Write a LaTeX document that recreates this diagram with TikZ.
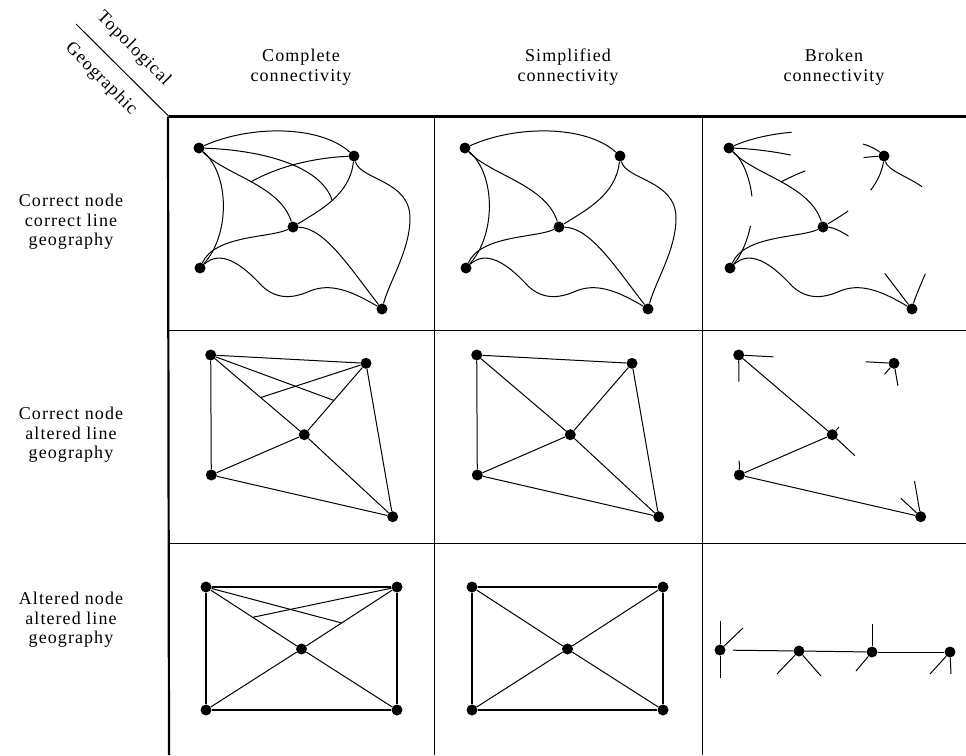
\documentclass[tikz,border=0pt]{standalone}
\usepackage{fontspec}
\setmainfont[LetterSpace=6]{Liberation Serif}
\usetikzlibrary{calc}
\newcommand\netRowA[1]{%
  \node[dot] (#1A) at (199,148) {};
  \node[dot] (#1B) at (354,156) {};
  \node[dot] (#1C) at (293,227) {};
  \node[dot] (#1D) at (200,268) {};
  \node[dot] (#1E) at (382,309) {};
  \coordinate (#1x1) at (250.9,181.9);
  \coordinate (#1x2) at (332,199.8);
}
\newcommand\netRowB[1]{%
  \node[dot] (#1A) at (210.7,355) {};
  \node[dot] (#1B) at (366,363.3) {};
  \node[dot] (#1C) at (304.3,434.7) {};
  \node[dot] (#1D) at (211.3,475) {};
  \node[dot] (#1E) at (392.7,516.7) {};
}
\newcommand\netRowC[1]{%
  \node[dot] (#1TL) at (206,587) {};
  \node[dot] (#1TR) at (397,587) {};
  \node[dot] (#1C) at (301.5,649) {};
  \node[dot] (#1BL) at (206,710) {};
  \node[dot] (#1BR) at (397,710) {};
}
\newcommand\curvesRowA[1]{%
  \draw[edge] (#1A) .. controls (250,125) and (320,125) .. (#1B);
  \draw[edge] (#1A) .. controls (225,175) and (280,185) .. (#1C);
  \draw[edge] (#1A) .. controls (230,175) and (230,235) .. (#1D);
  \draw[edge] (#1B) .. controls (350,195) and (320,210) .. (#1C);
  \draw[edge] (#1B) .. controls (360,180) and (410,180) .. (410,218) .. controls (410,250) and (390,280) .. (#1E);
  \draw[edge] (#1C) .. controls (270,238) and (215,235) .. (#1D);
  \draw[edge] (#1C) .. controls (325,228) and (350,268) .. (#1E);
  \draw[edge] (#1D) .. controls (220,250) and (240,262) .. (262,286) .. controls (275,298) and (290,300) .. (310,291) .. controls (330,283) and (350,290) .. (#1E);
}
\newcommand\linesRowB[1]{%
  \draw[edge] (#1A) -- (#1B);
  \draw[edge] (#1A) -- (#1C);
  \draw[edge] (#1A) -- (#1D);
  \draw[edge] (#1B) -- (#1C);
  \draw[edge] (#1B) -- (#1E);
  \draw[edge] (#1C) -- (#1D);
  \draw[edge] (#1C) -- (#1E);
  \draw[edge] (#1D) -- (#1E);
}
\newcommand\linesRowC[1]{%
  \draw[rect] (#1TL) -- (#1TR);
  \draw[rect] (#1TR) -- (#1BR);
  \draw[rect] (#1BR) -- (#1BL);
  \draw[rect] (#1BL) -- (#1TL);
  \draw[edge] (#1TL) -- (#1C);
  \draw[edge] (#1C) -- (#1BR);
  \draw[edge] (#1BL) -- (#1C);
  \draw[edge] (#1C) -- (#1TR);
}
\begin{document}
\begin{tikzpicture}[x=1pt,y=-1pt,
  dot/.style={circle,fill=black,inner sep=0pt,minimum size=11pt},
  edge/.style={line width=1pt},
  rect/.style={line width=1.3pt},
  gridline/.style={line width=1pt},
  heavy/.style={line width=2.2pt},
  lbl/.style={font=\fontsize{18}{19.5}\selectfont,align=center,inner sep=0pt}]
\useasboundingbox (0,0) rectangle (966,755);
% grid
\coordinate (gTL) at (169,116.5);
\coordinate (gTR) at (966,116.5);
\coordinate (gBL) at (169,755);
\coordinate (dgS) at (76,24);
\draw[heavy] (gTL) -- (gTR);
\draw[heavy] (168,116.5) -- (gBL);
\draw[gridline] (dgS) -- (gTL);
\draw[gridline] (169,330) -- (966,330);
\draw[gridline] (169,543) -- (966,543);
\draw[gridline] (434.5,116.5) -- (434.5,755);
\draw[gridline] (702,116.5) -- (702,755);
% corner labels
\node[lbl,rotate=-45] (topo) at (133.5,49) {Topological};
\node[lbl,rotate=-45] (geo) at (101,79) {Geographic};
% headers
\node[lbl] (h1) at (301,67) {Complete\\connectivity};
\node[lbl] (h2) at (568,67) {Simplified\\connectivity};
\node[lbl] (h3) at (834,67) {Broken\\connectivity};
% row labels
\node[lbl] (r1) at (71,222) {Correct node\\correct line\\geography};
\node[lbl] (r2) at (71,435) {Correct node\\altered line\\geography};
\node[lbl] (r3) at (71,620) {Altered node\\altered line\\geography};

% ---------- Row 1 ----------
\netRowA{p}
\curvesRowA{p}
\draw[edge] (pA) .. controls (260,150) and (320,165) .. (px2);
\draw[edge] (pB) .. controls (310,158) and (275,168) .. (px1);
\begin{scope}[shift={(266,0)}]
\netRowA{q}
\curvesRowA{q}
\end{scope}
\begin{scope}[shift={(530,0)}]
\netRowA{r}
\draw[edge] (rA) .. controls (225,175) and (280,185) .. (rC);
\draw[edge] (rC) .. controls (270,238) and (215,235) .. (rD);
\draw[edge] (rD) .. controls (220,250) and (240,262) .. (262,286) .. controls (275,298) and (290,300) .. (310,291) .. controls (330,283) and (350,290) .. (rE);
\coordinate (rs1) at (261.5,132.3);
\coordinate (rs2) at (333.1,144.1);
\coordinate (rs3) at (260.7,155.1);
\coordinate (rs4) at (221.9,196.4);
\coordinate (rs5) at (220.4,226);
\coordinate (rs6) at (275.2,170.9);
\coordinate (rs7) at (333.5,157.6);
\coordinate (rs8) at (340.6,190.3);
\coordinate (rs9) at (318.1,211);
\coordinate (rs10) at (392,186.7);
\coordinate (rs11) at (395.3,273.7);
\coordinate (rs12) at (318.5,236.2);
\coordinate (rs13) at (354.7,273.4);
\draw[edge] (rA) .. controls (218.1,139.4) and (239.9,134) .. (rs1);
\draw[edge] (rB) .. controls (348.05,150.6) and (341,146.1) .. (rs2);
\draw[edge] (rA) .. controls (220.35,148.7) and (241.6,151) .. (rs3);
\draw[edge] (rA) .. controls (212.3,159.6) and (219.9,177.3) .. (rs4);
\draw[edge] (rD) .. controls (210.5,256.5) and (217.3,241.6) .. (rs5);
\draw[edge] (rx1) .. controls (257.5,178.5) and (265.9,174.5) .. (rs6);
\draw[edge] (rB) .. controls (347,156.3) and (340.2,156.8) .. (rs7);
\draw[edge] (rB) .. controls (352.5,170.2) and (347.6,181.3) .. (rs8);
\draw[edge] (rC) .. controls (301.4,221.7) and (310,216.7) .. (rs9);
\draw[edge] (rB) .. controls (357.6,170.4) and (377,176.2) .. (rs10);
\draw[edge] (rE) .. controls (385.2,297.4) and (390.3,285.6) .. (rs11);
\draw[edge] (rC) .. controls (302,227.3) and (310.4,230.6) .. (rs12);
\draw[edge] (rE) .. controls (372.4,296.7) and (363.4,284.5) .. (rs13);
\end{scope}

% ---------- Row 2 ----------
\netRowB{s}
\linesRowB{s}
\coordinate (sy1) at ($(sA)!.534!(sC)$);
\coordinate (sy2) at ($(sB)!.52!(sC)$);
\draw[edge] (sA) -- (sy2);
\draw[edge] (sB) -- (sy1);
\begin{scope}[shift={(266,0)}]
\netRowB{t}
\linesRowB{t}
\end{scope}
\begin{scope}[shift={(528,0)}]
\netRowB{u}
\draw[edge] (uA) -- (uC);
\draw[edge] (uD) -- (uC);
\draw[edge] (uD) -- (uE);
\draw[edge] (uA) -- ($(uA)!.223!(uB)$);
\draw[edge] (uA) -- ($(uA)!.2225!(uD)$);
\draw[edge] (uB) -- ($(uB)!.182!(uA)$);
\draw[edge] (uB) -- ($(uB)!.154!(uC)$);
\draw[edge] (uB) -- ($(uB)!.146!(uE)$);
\draw[edge] (uC) -- ($(uC)!.108!(uB)$);
\draw[edge] (uC) -- ($(uC)!.256!(uE)$);
\draw[edge] (uD) -- ($(uD)!.12!(uA)$);
\draw[edge] (uE) -- ($(uE)!.224!(uC)$);
\draw[edge] (uE) -- ($(uE)!.233!(uB)$);
\end{scope}

% ---------- Row 3 ----------
\netRowC{v}
\linesRowC{v}
\coordinate (vz1) at ($(vTL)!.489!(vC)$);
\coordinate (vz2) at ($(vC)!.42!(vTR)$);
\draw[edge] (vTL) -- (vz2);
\draw[edge] (vTR) -- (vz1);
\begin{scope}[shift={(266,0)}]
\netRowC{w}
\linesRowC{w}
\end{scope}
\node[dot] (n1) at (720,650) {};
\node[dot] (n2) at (799,651) {};
\node[dot] (n3) at (872,652) {};
\node[dot] (n4) at (950,652) {};
\coordinate (ng) at (733,650.2);
\draw[edge] (ng) -- (n2);
\draw[edge] (n2) -- (n3);
\draw[edge] (n3) -- (n4);
\coordinate (m1) at (720,621);
\coordinate (m2) at (720,678);
\coordinate (m3) at (743,628);
\coordinate (m4) at (777,674);
\coordinate (m5) at (821,676);
\coordinate (m6) at (872,624);
\coordinate (m7) at (856,671);
\coordinate (m8) at (930,674);
\coordinate (m9) at (951,674);
\draw[edge] (n1) -- (m1);
\draw[edge] (n1) -- (m2);
\draw[edge] (n1) -- (m3);
\draw[edge] (n2) -- (m4);
\draw[edge] (n2) -- (m5);
\draw[edge] (n3) -- (m6);
\draw[edge] (n3) -- (m7);
\draw[edge] (n4) -- (m8);
\draw[edge] (n4) -- (m9);
\end{tikzpicture}
\end{document}
